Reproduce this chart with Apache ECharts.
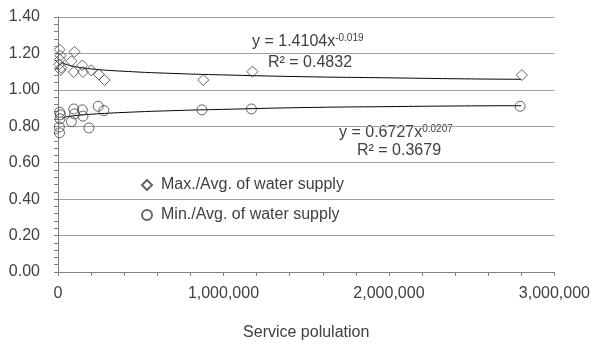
<!DOCTYPE html>
<html>
<head>
<meta charset="utf-8">
<script src="https://cdn.jsdelivr.net/npm/echarts@6/dist/echarts.min.js"></script>
<style>
html,body{margin:0;padding:0;background:#fff;}
#main{width:593px;height:346px;}
</style>
</head>
<body>
<div id="main"></div>
<script>
// Service population (x) for each point
var maxX = [10000, 15000, 12000, 8000, 20000, 16000, 100000, 81000, 95000, 147000, 151000, 201000, 247000, 281000, 878000, 1175000, 2803000];
var maxY = [1.221, 1.188, 1.167, 1.140, 1.122, 1.109, 1.209, 1.157, 1.098, 1.134, 1.098, 1.107, 1.085, 1.054, 1.054, 1.100, 1.081];
var minX = [10000, 15000, 12000, 8000, 9000, 81000, 95000, 100000, 147000, 151000, 187000, 243000, 277000, 870000, 1169000, 2793000];
var minY = [0.877, 0.863, 0.841, 0.796, 0.764, 0.826, 0.895, 0.868, 0.890, 0.856, 0.791, 0.910, 0.886, 0.890, 0.895, 0.910];
// trend lines as drawn
var maxTrendX = [25000, 50000, 100000, 200000, 400000, 700000, 1000000, 1500000, 2000000, 2500000, 2800000];
var maxTrendY = [1.150, 1.140, 1.128, 1.115, 1.102, 1.090, 1.082, 1.072, 1.066, 1.060, 1.058];
var minTrendX = [25000, 50000, 100000, 200000, 400000, 700000, 1000000, 1500000, 2000000, 2500000, 2800000];
var minTrendY = [0.845, 0.852, 0.858, 0.866, 0.876, 0.886, 0.893, 0.903, 0.908, 0.912, 0.913];
var seriesNames = ['Max./Avg. of water supply', 'Min./Avg. of water supply'];
var xTitle = 'Service polulation';

function zip(a, b) { return a.map(function (v, i) { return [v, b[i]]; }); }

var FONT = '"Liberation Sans", Arial, sans-serif';
var TXT = '#404040';
var AX = '#808080';

var chart = echarts.init(document.getElementById('main'), null, {renderer: 'canvas'});
chart.setOption({
  animation: false,
  backgroundColor: '#fff',
  textStyle: {fontFamily: FONT, color: TXT},
  grid: {left: 58, right: 37, top: 17, bottom: 71, containLabel: false},
  xAxis: {
    type: 'value', min: 0, max: 3000000, interval: 1000000,
    name: xTitle, nameLocation: 'middle', nameGap: 53,
    nameTextStyle: {fontSize: 16, color: TXT, fontFamily: FONT},
    axisLine: {show: true, onZero: false, lineStyle: {color: AX, width: 1}},
    axisTick: {show: true, inside: false, length: 4, lineStyle: {color: AX, width: 1}},
    minorTick: {show: true, splitNumber: 5, length: 4, lineStyle: {color: AX, width: 1}},
    splitLine: {show: false},
    axisLabel: {fontSize: 16, color: TXT, margin: 14, fontFamily: FONT,
      formatter: function (v) { return v.toLocaleString('en-US'); }}
  },
  yAxis: {
    type: 'value', min: 0, max: 1.4, interval: 0.2,
    axisLine: {show: true, onZero: false, lineStyle: {color: AX, width: 1}},
    axisTick: {show: true, inside: false, length: 4, lineStyle: {color: AX, width: 1}},
    minorTick: {show: true, splitNumber: 5, length: 4, lineStyle: {color: AX, width: 1}},
    splitLine: {show: true, lineStyle: {color: '#a0a0a0', width: 1}},
    axisLabel: {fontSize: 16, color: TXT, margin: 18, fontFamily: FONT,
      formatter: function (v) { return v.toFixed(2); }}
  },
  legend: {
    data: seriesNames,
    orient: 'vertical', left: 136, top: 172,
    itemWidth: 10, itemHeight: 10, itemGap: 14,
    textStyle: {fontSize: 16, color: TXT, fontFamily: FONT, lineHeight: 16, padding: [0, 0, 0, 4]}
  },
  series: [
    {
      name: seriesNames[0], type: 'scatter', symbol: 'diamond', symbolSize: 11,
      data: zip(maxX, maxY),
      itemStyle: {color: 'rgba(255,255,255,0)', borderColor: '#404040', borderWidth: 1},
      z: 3
    },
    {
      name: seriesNames[1], type: 'scatter', symbol: 'circle', symbolSize: 10,
      data: zip(minX, minY),
      itemStyle: {color: 'rgba(255,255,255,0)', borderColor: '#404040', borderWidth: 1},
      z: 3
    },
    {
      name: 'maxTrend', type: 'line', data: zip(maxTrendX, maxTrendY), smooth: true,
      showSymbol: false, symbol: 'none', lineStyle: {color: '#000', width: 1}, z: 2
    },
    {
      name: 'minTrend', type: 'line', data: zip(minTrendX, minTrendY), smooth: true,
      showSymbol: false, symbol: 'none', lineStyle: {color: '#000', width: 1}, z: 2
    }
  ],
  graphic: [
    {type: 'text', left: 252, top: 33, style: {
      text: '{a|y = 1.4104x}{s|-0.019}', fontFamily: FONT,
      rich: {a: {fontSize: 16, fill: TXT, fontFamily: FONT, lineHeight: 18},
             s: {fontSize: 10, fill: TXT, fontFamily: FONT, verticalAlign: 'top', lineHeight: 18, padding: [0, 0, 6, 0]}}
    }},
    {type: 'text', left: 268, top: 55, style: {text: 'R² = 0.4832', fontSize: 16, fill: TXT, fontFamily: FONT}},
    {type: 'text', left: 339, top: 124, style: {
      text: '{a|y = 0.6727x}{s|0.0207}', fontFamily: FONT,
      rich: {a: {fontSize: 16, fill: TXT, fontFamily: FONT, lineHeight: 18},
             s: {fontSize: 10, fill: TXT, fontFamily: FONT, verticalAlign: 'top', lineHeight: 18, padding: [0, 0, 6, 0]}}
    }},
    {type: 'text', left: 357, top: 143, style: {text: 'R² = 0.3679', fontSize: 16, fill: TXT, fontFamily: FONT}}
  ]
});
</script>
</body>
</html>
